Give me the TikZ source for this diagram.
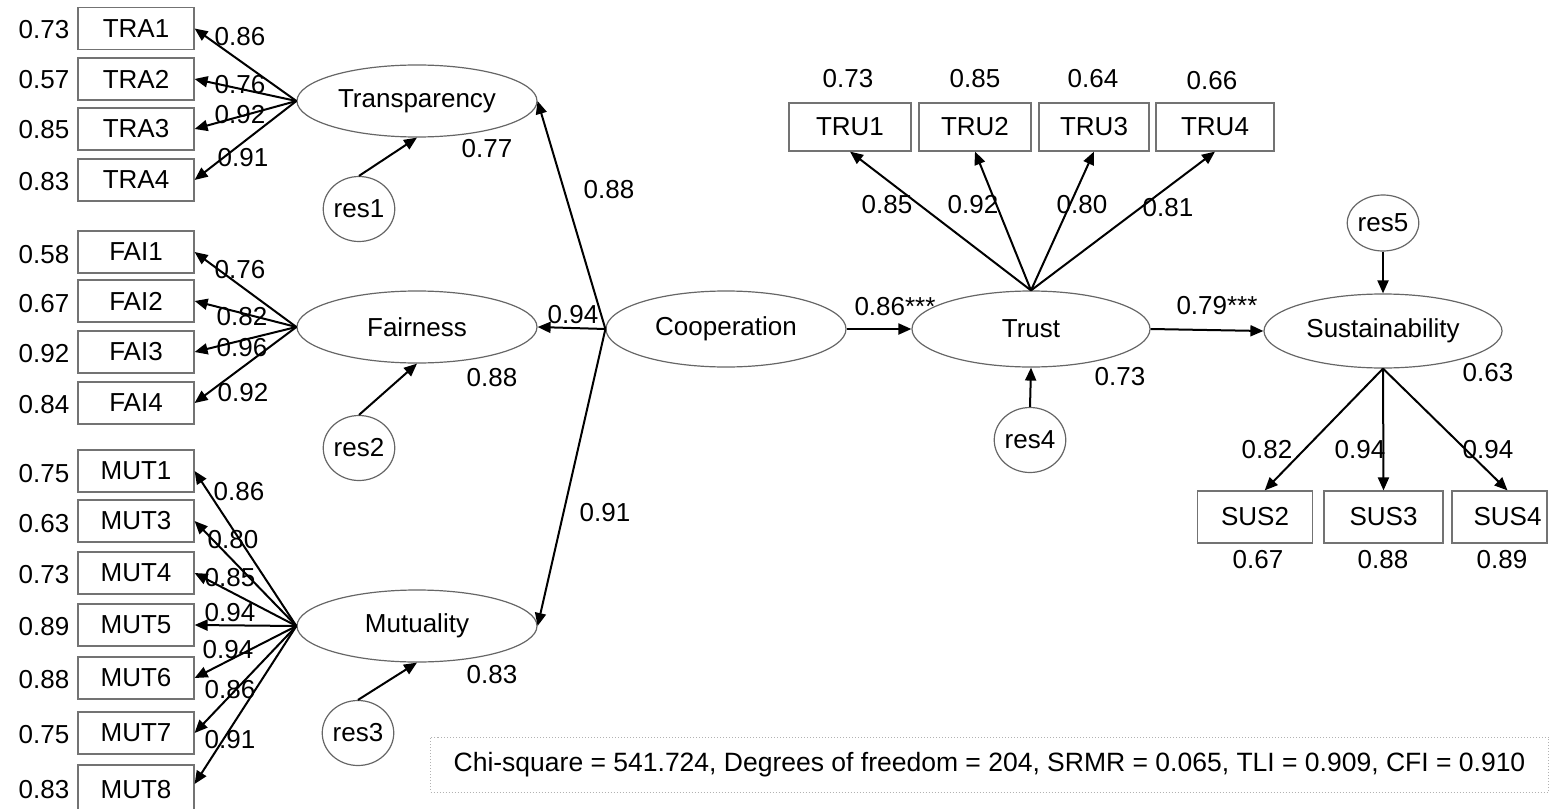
\documentclass[tikz,border=0pt]{standalone}
\usepackage{fontspec}
\setmainfont{Liberation Sans}
\usetikzlibrary{shapes.geometric,arrows.meta}
\begin{document}
\begin{tikzpicture}[x=0.5pt,y=-0.5pt,
  every node/.style={font=\fontsize{13}{15}\selectfont},
  obs/.style={draw=black!55, line width=0.6pt, rectangle, minimum width=58pt, minimum height=21pt, inner sep=0pt},
  lat/.style={draw=black!60, line width=0.6pt, ellipse, minimum width=120pt, minimum height=36pt, inner sep=0pt},
  err/.style={draw=black!60, line width=0.6pt, ellipse, minimum width=34.5pt, minimum height=32.5pt, inner sep=0pt},
  arr/.style={line width=1pt, -{Triangle[length=6.5pt,width=5.5pt]}},
  num/.style={inner sep=0pt},
  fitbox/.style={draw=black!30, densely dotted, line width=0.5pt, minimum width=559pt, minimum height=27.5pt, inner sep=0pt, font=\fontsize{13.25}{15}\selectfont},
]
\useasboundingbox (0,0) rectangle (1551,808);

% ---------- latent variables ----------
\node[lat] (tra) at (417,101) {Transparency};
\node[lat] (fai) at (417,327) {Fairness};
\node[lat] (mut) at (417,626) {Mutuality};
\node[lat, minimum height=38pt] (coo) at (726,329) {Cooperation};
\node[lat, minimum width=119pt, minimum height=38pt] (tru) at (1031,329) {Trust};
\node[lat, minimum width=119pt, minimum height=37pt] (sus) at (1383,331) {Sustainability};

% ---------- residuals ----------
\node[err] (r1) at (359,209) {res1};
\node[err] (r2) at (359,448) {res2};
\node[err] (r3) at (358,733) {res3};
\node[err] (r4) at (1030,440) {res4};
\node[err, minimum height=28pt] (r5) at (1383,223) {res5};

% ---------- Transparency indicators ----------
\node[obs] (tra1) at (136,28.5) {TRA1};
\node[obs] (tra2) at (136,79) {TRA2};
\node[obs] (tra3) at (136,129) {TRA3};
\node[obs] (tra4) at (136,180) {TRA4};
% ---------- Fairness indicators ----------
\node[obs] (fai1) at (136,252) {FAI1};
\node[obs] (fai2) at (136,301) {FAI2};
\node[obs] (fai3) at (136,352) {FAI3};
\node[obs] (fai4) at (136,403) {FAI4};
% ---------- Mutuality indicators ----------
\node[obs] (mut1) at (136,471) {MUT1};
\node[obs] (mut3) at (136,521) {MUT3};
\node[obs] (mut4) at (136,573) {MUT4};
\node[obs] (mut5) at (136,625) {MUT5};
\node[obs] (mut6) at (136,678) {MUT6};
\node[obs] (mut7) at (136,733) {MUT7};
\node[obs, minimum height=25pt] (mut8) at (136,790) {MUT8};
% ---------- Trust indicators ----------
\node[obs, minimum width=61pt, minimum height=24pt] (tru1) at (850,127) {TRU1};
\node[obs, minimum width=56pt, minimum height=24pt] (tru2) at (975,127) {TRU2};
\node[obs, minimum width=55pt, minimum height=24pt] (tru3) at (1094,127) {TRU3};
\node[obs, minimum width=59pt, minimum height=24pt] (tru4) at (1215,127) {TRU4};
% ---------- Sustainability indicators ----------
\node[obs, minimum width=57.5pt, minimum height=26pt] (sus2) at (1255,517) {SUS2};
\node[obs, minimum width=59.5pt, minimum height=26pt] (sus3) at (1383.5,517) {SUS3};
\node[obs, minimum width=47.5pt, minimum height=26pt] (sus4) at (1499.5,517) {\hspace*{8pt}SUS4};

% ---------- error variances of indicators ----------
\foreach \v/\y in {0.73/30,0.57/80,0.85/130,0.83/182,0.58/255,0.67/304,0.92/354,0.84/405,
                   0.75/474,0.63/524,0.73/575,0.89/627,0.88/680,0.75/735,0.83/790}
  \node[num] at (44,\y) {\v};
\node[num] (e1) at (848,79) {0.73};
\node[num] (e2) at (975,79) {0.85};
\node[num] (e3) at (1093,79) {0.64};
\node[num] (e4) at (1212,81) {0.66};
\node[num] (e5) at (1258,560) {0.67};
\node[num] (e6) at (1383,560) {0.88};
\node[num] (e7) at (1502,560) {0.89};

% ---------- R-squared labels ----------
\node[num] (q1) at (487,149) {0.77};
\node[num] (q2) at (492,378) {0.88};
\node[num] (q3) at (492,675) {0.83};
\node[num] (q4) at (1120,377) {0.73};
\node[num] (q5) at (1488,373) {0.63};

% ---------- loadings: arrows ----------
\foreach \b in {tra1,tra2,tra3,tra4} \draw[arr] (tra.west) -- (\b.east);
\foreach \b in {fai1,fai2,fai3,fai4} \draw[arr] (fai.west) -- (\b.east);
\foreach \b in {mut1,mut3,mut4,mut5,mut6,mut7} \draw[arr] (mut.west) -- (\b.east);
\draw[arr] (mut.west) -- ([yshift=3pt]mut8.east);
\foreach \b in {tru1,tru2,tru3,tru4} \draw[arr] (tru.north) -- (\b.south);
\draw[arr] (sus.south) -- (sus2.70);
\draw[arr] (sus.south) -- (sus3.north);
\draw[arr] (sus.south) -- ([xshift=4pt]sus4.north);

% ---------- structural paths ----------
\draw[arr] (coo.west) -- (tra.east);
\draw[arr] (coo.west) -- (fai.east);
\draw[arr] (coo.west) -- (mut.east);
\draw[arr] (coo.east) -- (tru.west);
\draw[arr] (tru.east) -- (sus.west);

% ---------- residual paths ----------
\draw[arr] (r1.north) -- (tra.south);
\draw[arr] (r2.north) -- (fai.south);
\draw[arr] (r3.north) -- (mut.south);
\draw[arr] (r4.north) -- (tru.south);
\draw[arr] (r5.south) -- (sus.north);

% ---------- loading labels ----------
\node[num] at (240,37) {0.86};
\node[num] at (240,85) {0.76};
\node[num] at (240,115) {0.92};
\node[num] at (243,158) {0.91};
\node[num] at (240,270) {0.76};
\node[num] at (242,317) {0.82};
\node[num] at (242,348) {0.96};
\node[num] at (243,393) {0.92};
\node[num] at (239,492) {0.86};
\node[num] at (233,540) {0.80};
\node[num] at (230,578) {0.85};
\node[num] at (230,613) {0.94};
\node[num] at (228,650) {0.94};
\node[num] at (230,690) {0.86};
\node[num] at (230,740) {0.91};

\node[num] at (609,190) {0.88};
\node[num] at (573,315) {0.94};
\node[num] at (605,513) {0.91};
\node[num] at (895,307) {0.86***};
\node[num] at (1217,306) {0.79***};

\node[num] at (887,205) {0.85};
\node[num] at (973,205) {0.92};
\node[num] at (1082,205) {0.80};
\node[num] at (1168,208) {0.81};

\node[num] at (1267,450) {0.82};
\node[num] at (1360,450) {0.94};
\node[num] at (1488,450) {0.94};

% ---------- fit statistics ----------
\node[fitbox] (fit) at (989.5,764.5) {Chi-square = 541.724, Degrees of freedom = 204, SRMR = 0.065, TLI = 0.909, CFI = 0.910};
\end{tikzpicture}
\end{document}
